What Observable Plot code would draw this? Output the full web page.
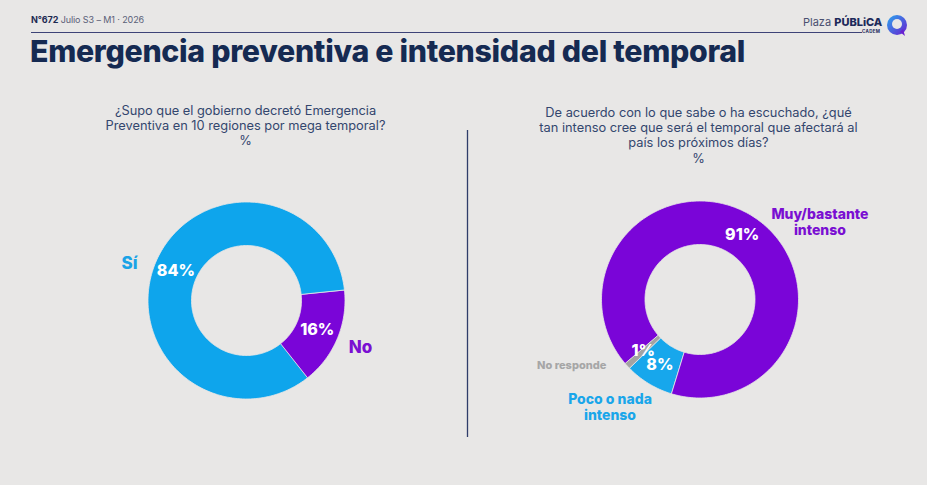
<!DOCTYPE html>
<html>
<head>
<meta charset="utf-8">
<script src="https://cdn.jsdelivr.net/npm/d3@7"></script>
<script src="https://cdn.jsdelivr.net/npm/@observablehq/plot@0.6"></script>
<style>
  html, body { margin: 0; padding: 0; background: #e8e7e6; }
  body { width: 927px; height: 485px; position: relative; overflow: hidden; font-family: Inter, "Noto Sans", sans-serif; }
  #info { position: absolute; left: 31px; top: 14px; font-size: 9px; color: #5a6078; letter-spacing: -0.1px; }
  #info b { color: #1d2a52; font-weight: 700; }
  #hline { position: absolute; left: 31px; top: 32px; width: 831px; height: 1.3px; background: #3d4377; }
  #logo { position: absolute; left: 803px; top: 15px; font-size: 11px; color: #4a5070; }
  #logo b { color: #1d2a5a; font-weight: 800; }
  #cadem { position: absolute; left: 862px; top: 29px; font-size: 4.5px; color: #1d2a5a; letter-spacing: 0.3px; font-weight: 700; }
  #icon { position: absolute; left: 886px; top: 14px; }
  #title { position: absolute; left: 30px; top: 33px; font-size: 30.3px; font-weight: 800; color: #152a52; letter-spacing: -0.3px; white-space: nowrap; }
  #chart { position: absolute; left: 0; top: 80px; }
</style>
</head>
<body>
<div id="info"><b>N°672</b> Julio S3 – M1 · 2026</div>
<div id="hline"></div>
<div id="logo">Plaza <b>PÚBLiCA</b></div>
<div id="cadem">CADEM</div>
<svg id="icon" width="24" height="24" viewBox="0 0 24 24">
  <defs><linearGradient id="lg" x1="0" y1="0" x2="1" y2="1"><stop offset="0" stop-color="#2aa8ee"/><stop offset="1" stop-color="#6a1fd0"/></linearGradient></defs>
  <circle cx="11" cy="11" r="10" fill="url(#lg)"/>
  <circle cx="11" cy="10" r="5" fill="#e8e7e6"/>
  <path d="M14 18 L19 22 L17 15 Z" fill="#6a1fd0"/>
</svg>
<div id="title">Emergencia preventiva e intensidad del temporal</div>
<div id="chart"></div>
<script>
// ---- data ----
const q1Question = "¿Supo que el gobierno decretó Emergencia\nPreventiva en 10 regiones por mega temporal?\n%";
const q1Categories = ["Sí", "No"];
const q1Values = [84, 16];

const q2Question = "De acuerdo con lo que sabe o ha escuchado, ¿qué\ntan intenso cree que será el temporal que afectará al\npaís los próximos días?\n%";
const q2Categories = ["Muy/bastante intenso", "Poco o nada intenso", "No responde"];
const q2Values = [91, 8, 1];

// ---- styles / layout ----
const colorMap = {
  "Sí": "#0ea5ec", "No": "#7a05d8",
  "Muy/bastante intenso": "#7a05d8", "Poco o nada intenso": "#17a7ec", "No responde": "#a3a3a3"
};
const labelColor = {
  "Sí": "#1aa3e6", "No": "#7a0fd2",
  "Muy/bastante intenso": "#7a0fd2", "Poco o nada intenso": "#1aa6ea", "No responde": "#a6a6a6"
};
const W = 927, H = 405;
const rOuter = 98.5, rInner = 55;
const donuts = [
  { question: q1Question, cats: q1Categories, vals: q1Values, cx: 246, cy: 220, start: 141.7, qx: 245, qy: 24,
    outer: { "Sí": { ang: 288, r: 123, text: "Sí", size: 17 }, "No": { ang: 112, r: 123, text: "No", size: 17 } } },
  { question: q2Question, cats: q2Categories, vals: q2Values, cx: 699.5, cy: 219, start: 229.5, qx: 698, qy: 26,
    outer: { "Muy/bastante intenso": { ang: 57, r: 143, text: "Muy/bastante\nintenso", size: 14 },
             "Poco o nada intenso": { ang: 220, r: 140, text: "Poco o nada\nintenso", size: 14 },
             "No responde": { ang: 243, r: 144, text: "No responde", size: 11 } } }
];

const pt = (cx, cy, r, deg) => {
  const a = deg * Math.PI / 180;
  return [cx + r * Math.sin(a), cy - r * Math.cos(a)];
};

const arcPts = [], pctLabels = [], outLabels = [], questions = [];
donuts.forEach((d, di) => {
  const total = d3.sum(d.vals);
  let a0 = d.start;
  d.cats.forEach((c, i) => {
    const span = d.vals[i] / total * 360;
    const a1 = a0 + span;
    const n = Math.max(4, Math.ceil(span / 1.5));
    const key = di + ":" + c;
    for (let k = 0; k <= n; k++) {
      const [x, y] = pt(d.cx, d.cy, rOuter, a0 + span * k / n);
      arcPts.push({ key, cat: c, x, y });
    }
    for (let k = n; k >= 0; k--) {
      const [x, y] = pt(d.cx, d.cy, rInner, a0 + span * k / n);
      arcPts.push({ key, cat: c, x, y });
    }
    const mid = (a0 + a1) / 2;
    const [lx, ly] = pt(d.cx, d.cy, (rOuter + rInner) / 2, mid);
    pctLabels.push({ x: lx, y: ly, text: d.vals[i] + "%" });
    const o = d.outer[c];
    const [ox, oy] = pt(d.cx, d.cy, o.r, o.ang == null ? mid : o.ang);
    outLabels.push({ x: ox, y: oy, text: o.text, cat: c, size: o.size });
    a0 = a1;
  });
  questions.push({ x: d.qx, y: d.qy, text: d.question });
});

const plot = Plot.plot({
  width: W, height: H,
  margin: 0,
  x: { domain: [0, W], range: [0, W], axis: null },
  y: { domain: [0, H], range: [0, H], axis: null },
  style: { background: "transparent", fontFamily: "Inter, 'Noto Sans', sans-serif" },
  marks: [
    Plot.line(arcPts, { x: "x", y: "y", z: "key", fill: d => colorMap[d.cat], stroke: "#e8e7e6", strokeWidth: 0.8, curve: "linear-closed" }),
    Plot.text(questions, { x: "x", y: "y", text: "text", fontSize: 12.8, fill: "#33466e", lineHeight: 1.18, textAnchor: "middle", lineAnchor: "top" }),
    Plot.ruleX([467], { y1: 50, y2: 357, stroke: "#2f3d6a", strokeWidth: 1.3 }),
    Plot.text(pctLabels, { x: "x", y: "y", text: "text", fill: "white", fontSize: 16, fontWeight: 800 }),
    ...["Sí","No","Muy/bastante intenso","Poco o nada intenso","No responde"].map(c =>
      Plot.text(outLabels.filter(d => d.cat === c), { x: "x", y: "y", text: "text", fill: labelColor[c], fontSize: outLabels.find(d => d.cat === c).size, fontWeight: 800, lineHeight: 1.15 }))
  ]
});
document.getElementById("chart").appendChild(plot);
</script>
</body>
</html>
